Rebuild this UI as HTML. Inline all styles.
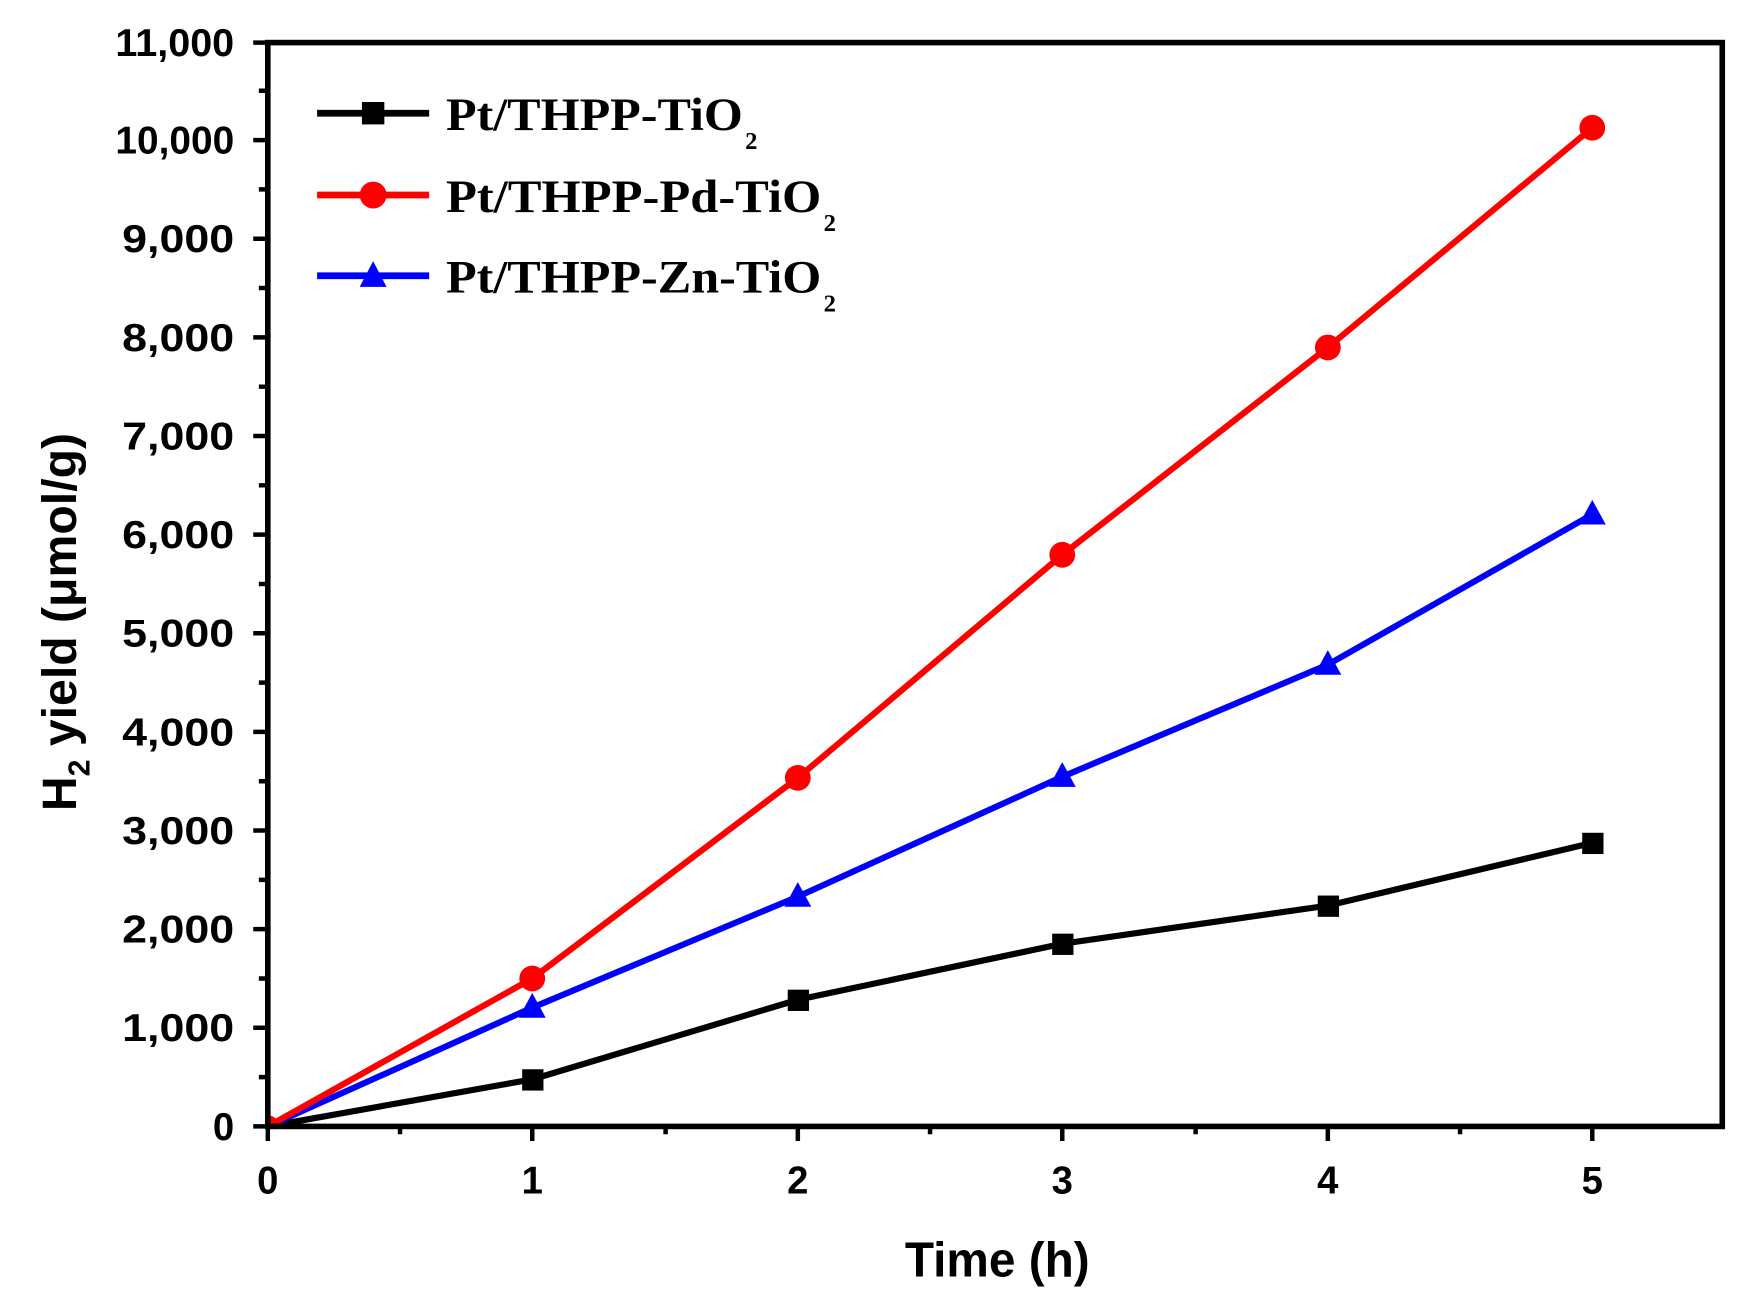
<!DOCTYPE html>
<html><head><meta charset="utf-8"><style>html,body{margin:0;padding:0;background:#fff}svg{display:block}</style></head>
<body>
<svg width="1757" height="1308" viewBox="0 0 1568 1167" preserveAspectRatio="none" xmlns="http://www.w3.org/2000/svg">
<rect width="1568" height="1167" fill="#fff"/>
<g stroke-linecap="butt" fill="none" stroke-width="5.5">
<polyline stroke="#000" points="239,1005 475,963 712,892 948,842 1185,808 1421,752"/>
<polyline stroke="#0000ff" points="239,1005 475,899 712,800 948,693 1185,593 1421,459"/>
<polyline stroke="#ff0000" points="239,1005 475,873 712,694 948,495 1185,310 1421,114"/>
</g>
<g fill="#000">
<rect x="466" y="954" width="19" height="19"/><rect x="703" y="883" width="19" height="19"/><rect x="939" y="833" width="19" height="19"/><rect x="1176" y="799" width="19" height="19"/><rect x="1412" y="743" width="19" height="19"/>
</g>
<g fill="#0000ff">
<polygon points="475,886 487,908 463,908"/><polygon points="712,787 724,809 700,809"/><polygon points="948,680 960,702 936,702"/><polygon points="1185,580 1197,602 1173,602"/><polygon points="1421,446 1433,468 1409,468"/>
</g>
<g fill="#ff0000">
<circle cx="475" cy="873" r="11.5"/><circle cx="712" cy="694" r="11.5"/><circle cx="948" cy="495" r="11.5"/><circle cx="1185" cy="310" r="11.5"/><circle cx="1421" cy="114" r="11.5"/>
<path d="M239,995 a10,10 0 0 1 10,10 h-10z"/>
</g>
<g stroke="#000" stroke-width="4">
<rect x="239" y="38" width="1298" height="967" fill="none" stroke-width="5"/>
<path d="M226,1005H239M226,917H239M226,829H239M226,741H239M226,653H239M226,565H239M226,477H239M226,389H239M226,301H239M226,213H239M226,125H239M226,38H239"/>
<path d="M231,961H239M231,873H239M231,785H239M231,697H239M231,609H239M231,521H239M231,433H239M231,345H239M231,257H239M231,169H239M231,81H239"/>
<path d="M239,1005V1018M475,1005V1018M712,1005V1018M948,1005V1018M1185,1005V1018M1421,1005V1018"/>
<path d="M357,1005V1012M594,1005V1012M830,1005V1012M1067,1005V1012M1303,1005V1012"/>
</g>
<g font-family="Liberation Sans, sans-serif" font-weight="bold" font-size="35" text-anchor="end" fill="#000">
<text x="209" y="1017" textLength="19" lengthAdjust="spacingAndGlyphs">0</text><text x="209" y="929" textLength="100" lengthAdjust="spacingAndGlyphs">1,000</text>
<text x="209" y="841" textLength="100" lengthAdjust="spacingAndGlyphs">2,000</text><text x="209" y="753" textLength="100" lengthAdjust="spacingAndGlyphs">3,000</text>
<text x="209" y="665" textLength="100" lengthAdjust="spacingAndGlyphs">4,000</text><text x="209" y="577" textLength="100" lengthAdjust="spacingAndGlyphs">5,000</text>
<text x="209" y="489" textLength="100" lengthAdjust="spacingAndGlyphs">6,000</text><text x="209" y="401" textLength="100" lengthAdjust="spacingAndGlyphs">7,000</text>
<text x="209" y="313" textLength="100" lengthAdjust="spacingAndGlyphs">8,000</text><text x="209" y="225" textLength="100" lengthAdjust="spacingAndGlyphs">9,000</text>
<text x="209" y="137" textLength="106" lengthAdjust="spacingAndGlyphs">10,000</text><text x="209" y="50" textLength="106" lengthAdjust="spacingAndGlyphs">11,000</text>
</g>
<g font-family="Liberation Sans, sans-serif" font-weight="bold" font-size="35" text-anchor="middle" fill="#000">
<text x="239" y="1065" textLength="19" lengthAdjust="spacingAndGlyphs">0</text><text x="475" y="1065" textLength="19" lengthAdjust="spacingAndGlyphs">1</text><text x="712" y="1065" textLength="19" lengthAdjust="spacingAndGlyphs">2</text><text x="948" y="1065" textLength="19" lengthAdjust="spacingAndGlyphs">3</text><text x="1185" y="1065" textLength="19" lengthAdjust="spacingAndGlyphs">4</text><text x="1421" y="1065" textLength="19" lengthAdjust="spacingAndGlyphs">5</text>
</g>
<text x="890" y="1139" font-family="Liberation Sans, sans-serif" font-weight="bold" font-size="44" text-anchor="middle" textLength="165" lengthAdjust="spacingAndGlyphs">Time (h)</text>
<text transform="translate(68,555) rotate(-90)" font-family="Liberation Sans, sans-serif" font-weight="bold" font-size="43" text-anchor="middle">H<tspan font-size="27" dy="12">2</tspan><tspan dy="-12"> yield (μmol/g)</tspan></text>
<g stroke-width="6">
<path d="M283,101H383" stroke="#000"/><path d="M283,174H383" stroke="#ff0000"/><path d="M283,246H383" stroke="#0000ff"/>
</g>
<rect x="323" y="91" width="20" height="20" fill="#000"/>
<circle cx="333" cy="174" r="12" fill="#ff0000"/>
<polygon points="333,233 345,256 321,256" fill="#0000ff"/>
<g font-family="Liberation Serif, serif" font-weight="bold" font-size="42" fill="#000">
<text x="398" y="116" textLength="265" lengthAdjust="spacingAndGlyphs">Pt/THPP-TiO</text><text x="665" y="133" font-size="22">2</text>
<text x="398" y="189" textLength="335" lengthAdjust="spacingAndGlyphs">Pt/THPP-Pd-TiO</text><text x="735" y="206" font-size="22">2</text>
<text x="398" y="261" textLength="335" lengthAdjust="spacingAndGlyphs">Pt/THPP-Zn-TiO</text><text x="735" y="278" font-size="22">2</text>
</g>
</svg>
</body></html>
